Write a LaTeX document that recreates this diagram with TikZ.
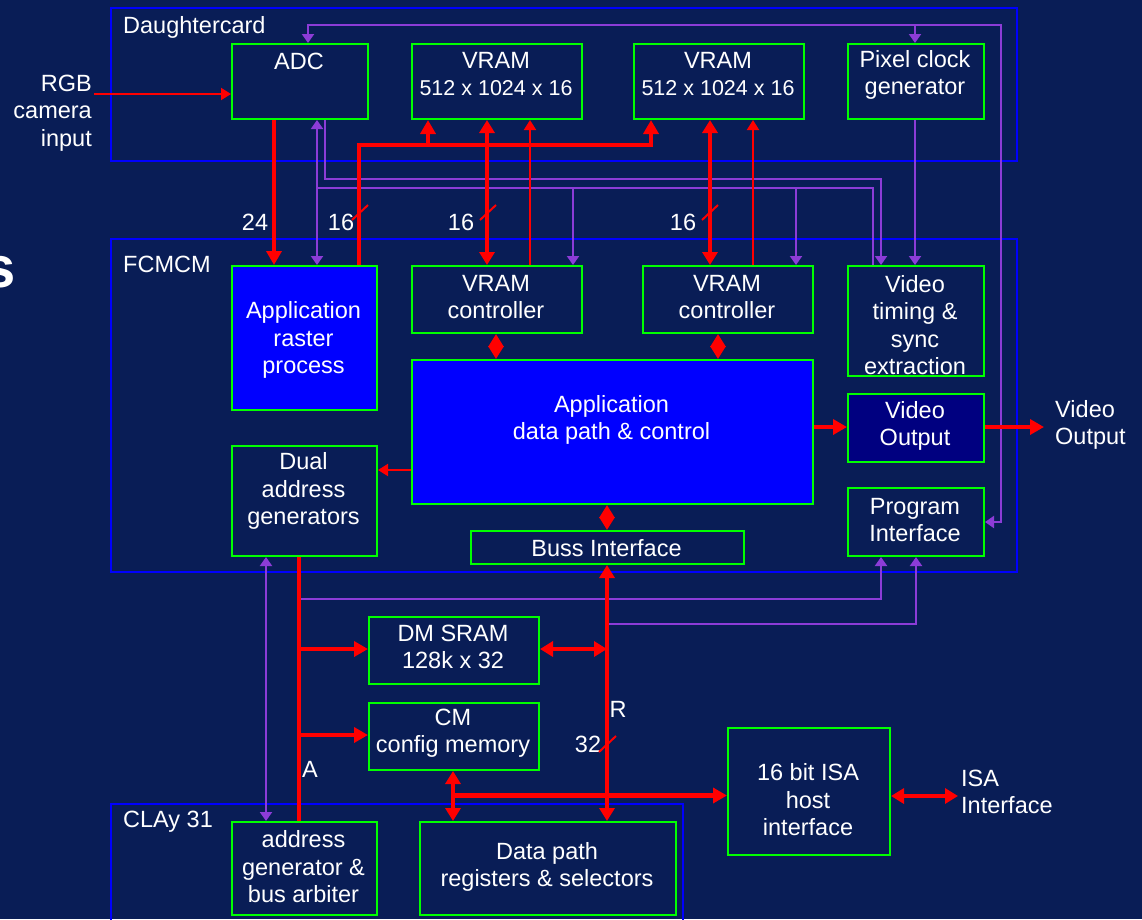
\documentclass[tikz,border=0pt]{standalone}
\usepackage{fontspec}
\setmainfont{Liberation Sans}
\usetikzlibrary{arrows.meta}
\definecolor{bg}{RGB}{9,29,86}
\definecolor{frameblue}{RGB}{0,0,255}
\definecolor{boxgreen}{RGB}{0,255,0}
\definecolor{wire}{RGB}{255,0,0}
\definecolor{ctlc}{RGB}{140,60,215}
\definecolor{navyfill}{RGB}{0,0,128}
\newcommand{\smline}[1]{{\fontsize{21.5}{27.5}\selectfont #1}}
\tikzset{
 frame/.style={draw=frameblue, line width=2pt},
 box/.style={draw=boxgreen, line width=2pt, inner sep=0pt, anchor=north west},
 txt/.style={text=white, font=\fontsize{23.5}{27.5}\selectfont, align=center, inner sep=0pt},
 bus/.style={draw=wire, line width=4.7pt},
 thinw/.style={draw=wire, line width=2pt},
 ctlw/.style={draw=ctlc, line width=2pt},
 busend/.style={-{Triangle[width=15pt,length=14pt]}},
 busboth/.style={{Triangle[width=15pt,length=13pt]}-{Triangle[width=15pt,length=13pt]}},
 thinend/.style={-{Triangle[width=12pt,length=10pt]}},
 ctlend/.style={-{Triangle[width=12pt,length=9pt]}},
 ctlboth/.style={{Triangle[width=12pt,length=9pt]}-{Triangle[width=12pt,length=9pt]}},
}
\begin{document}
\begin{tikzpicture}[x=1pt,y=-1pt]
\useasboundingbox (0,0) rectangle (1142,919);
\clip (0,0) rectangle (1142,919);
\fill[bg] (0,0) rectangle (1142,919);

% cropped title letter
\node[text=white, font=\bfseries\fontsize{58}{60}\selectfont, inner sep=0pt, anchor=base east] (ttl) at (16,287) {s};

% frames
\draw[frame] (111,8) rectangle (1017,161);
\draw[frame] (111,239) rectangle (1017,572);
\draw[frame] (111,804) rectangle (683,935);
\node[txt, anchor=base west] (dcl) at (123,33) {Daughtercard};
\node[txt, anchor=base west] (fcl) at (123,272) {FCMCM};
\node[txt, anchor=base west] (cll) at (123,827) {CLAy 31};

% boxes
\node[box, minimum width=136pt, minimum height=75pt] (adc) at (231,43) {};
\node[box, minimum width=170pt, minimum height=75pt] (vram1) at (411,43) {};
\node[box, minimum width=170pt, minimum height=75pt] (vram2) at (633,43) {};
\node[box, minimum width=136pt, minimum height=75pt] (pix) at (847,43) {};
\node[box, fill=frameblue, minimum width=145pt, minimum height=144pt] (raster) at (231,265) {};
\node[box, minimum width=145pt, minimum height=110pt] (dual) at (231,445) {};
\node[box, minimum width=170pt, minimum height=67pt] (vctl1) at (411,265) {};
\node[box, minimum width=170pt, minimum height=67pt] (vctl2) at (642,265) {};
\node[box, fill=frameblue, minimum width=401pt, minimum height=144pt] (adp) at (411,359) {};
\node[box, minimum width=273pt, minimum height=33pt] (buss) at (470,530) {};
\node[box, minimum width=136pt, minimum height=110pt] (vtim) at (847,265) {};
\node[box, fill=navyfill, minimum width=136pt, minimum height=68pt] (vout) at (847,393) {};
\node[box, minimum width=136pt, minimum height=68pt] (prog) at (847,487) {};
\node[box, minimum width=170pt, minimum height=67pt] (dmsram) at (368,616) {};
\node[box, minimum width=170pt, minimum height=67pt] (cm) at (368,702) {};
\node[box, minimum width=145pt, minimum height=93pt] (agen) at (231,821) {};
\node[box, minimum width=256pt, minimum height=93pt] (dpath) at (419,821) {};
\node[box, minimum width=162pt, minimum height=127pt] (isa) at (727,727) {};

% box texts
\node[txt] (adct) at (299,61) {ADC};
\node[txt] (vram1t) at (496,74) {VRAM\\\smline{512 x 1024 x 16}};
\node[txt] (vram2t) at (718,74) {VRAM\\\smline{512 x 1024 x 16}};
\node[txt] (pixt) at (915,75) {Pixel clock\\generator};
\node[txt] (rastert) at (303.5,340) {Application\\raster\\process};
\node[txt] (dualt) at (303.5,491) {Dual\\address\\generators};
\node[txt] (vctl1t) at (496,297) {VRAM\\controller};
\node[txt] (vctl2t) at (727,297) {VRAM\\controller};
\node[txt] (adpt) at (611.5,420) {Application\\data path \& control};
\node[txt] (busst) at (606.5,548) {Buss Interface};
\node[txt] (vtimt) at (915,325) {Video\\timing \&\\sync\\extraction};
\node[txt] (voutt) at (915,426) {Video\\Output};
\node[txt] (progt) at (915,520) {Program\\Interface};
\node[txt] (dmsramt) at (453,647) {DM SRAM\\128k x 32};
\node[txt] (cmt) at (453,733) {CM\\config memory};
\node[txt] (agent) at (303.5,867) {address\\generator \&\\bus arbiter};
\node[txt] (dpatht) at (547,867) {Data path\\registers \& selectors};
\node[txt] (isat) at (808,800) {16 bit ISA\\host\\interface};

% external labels
\node[txt, align=right, anchor=east] (rgb) at (92,113) {RGB\\camera\\input};
\node[txt, align=left, anchor=west] (vidext) at (1055,425) {Video\\Output};
\node[txt, align=left, anchor=west] (isaext) at (961,792) {ISA\\Interface};

% bus labels
\node[txt] (l24) at (255,222) {24};
\node[txt] (l16a) at (341,222) {16};
\node[txt] (l16b) at (461,222) {16};
\node[txt] (l16c) at (683,222) {16};
\node[txt] (l32) at (588,744) {32};
\node[txt] (lR) at (618,709) {R};
\node[txt] (lA) at (310,769) {A};

% junction / free-end coordinates
\coordinate (ptop) at (915,25);
\coordinate (tim1) at (573,188);
\coordinate (tim2) at (796,188);
\coordinate (ja1) at (299,649);
\coordinate (ja2) at (299,735);
\coordinate (jr) at (607,649);
\coordinate (rgbin) at (94,94);
\coordinate (vidend) at (1044,427);
\coordinate (isaend) at (958,796);
\coordinate (jv) at (428,145);

% purple control lines
\draw[ctlw, ctlboth] (prog.east |- 0,522) -- (1001,522) -- (1001,25) -- (308,25) -- (adc.north -| 308,0);
\draw[ctlw, ctlend] (ptop) -- (pix.north -| 915,0);
\draw[ctlw, ctlend] (pix.south -| 915,0) -- (vtim.north -| 915,0);
\draw[ctlw, ctlend] (adc.south -| 325,0) -- (325,179) -- (881,179) -- (vtim.north -| 881,0);
\draw[ctlw] (vtim.north -| 873,0) -- (873,188) -- (317,188);
\draw[ctlw, ctlboth] (adc.south -| 317,0) -- (raster.north -| 317,0);
\draw[ctlw, ctlend] (tim1) -- (vctl1.north -| 573,0);
\draw[ctlw, ctlend] (tim2) -- (vctl2.north -| 796,0);
\draw[ctlw, ctlboth] (dual.south -| 266,0) -- (agen.north -| 266,0);
\draw[ctlw, ctlend] (299,599) -- (881,599) -- (prog.south -| 881,0);
\draw[ctlw, ctlend] (607,624) -- (916,624) -- (prog.south -| 916,0);

% thin red
\draw[thinw, thinend] (rgbin) -- (adc.west |- 0,94);
\draw[thinw, thinend] (vctl1.north -| 530,0) -- (vram1.south -| 530,0);
\draw[thinw, thinend] (vctl2.north -| 753,0) -- (vram2.south -| 753,0);
\draw[thinw, thinend] (adp.west |- 0,470) -- (dual.east |- 0,470);
\draw[thinw] (352,220) -- (368,205);
\draw[thinw] (480,220) -- (496,205);
\draw[thinw] (702,220) -- (718,205);
\draw[thinw] (599,752) -- (616,736);

% thick red buses
\draw[bus, busend] (adc.south -| 274,0) -- (raster.north -| 274,0);
\draw[bus, busend] (raster.north -| 359,0) -- (359,145) -- (651,145) -- (vram2.south -| 651,0);
\draw[bus, busend] (jv) -- (vram1.south -| 428,0);
\draw[bus, busboth] (vram1.south -| 487,0) -- (vctl1.north -| 487,0);
\draw[bus, busboth] (vram2.south -| 710,0) -- (vctl2.north -| 710,0);
\draw[bus, busboth] (vctl1.south -| 496,0) -- (adp.north -| 496,0);
\draw[bus, busboth] (vctl2.south -| 718,0) -- (adp.north -| 718,0);
\draw[bus, busboth] (adp.south -| 607,0) -- (buss.north -| 607,0);
\draw[bus, busend] (adp.east |- 0,427) -- (vout.west |- 0,427);
\draw[bus, busend] (vout.east |- 0,427) -- (vidend);
\draw[bus, busboth] (buss.south -| 607,0) -- (dpath.north -| 607,0);
\draw[bus, busboth] (dmsram.east |- 0,649) -- (jr);
\draw[bus] (dual.south -| 299,0) -- (agen.north -| 299,0);
\draw[bus, busend] (ja1) -- (dmsram.west |- 0,649);
\draw[bus, busend] (ja2) -- (cm.west |- 0,735);
\draw[bus, busboth] (cm.south -| 453,0) -- (dpath.north -| 453,0);
\draw[bus, busend] (453,795.5) -- (isa.west |- 0,795.5);
\draw[bus, busboth] (isa.east |- 0,796) -- (isaend);
\end{tikzpicture}
\end{document}
